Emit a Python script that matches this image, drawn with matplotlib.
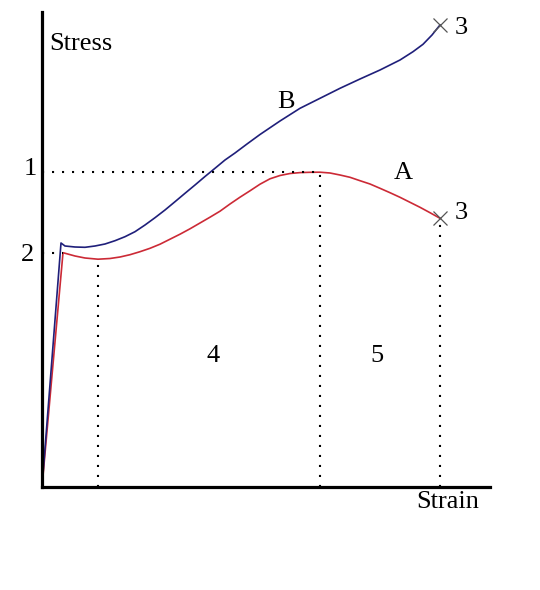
import matplotlib.pyplot as plt
import numpy as np

# curve A (red), arbitrary units
strain_a = [0, 21, 33, 43, 56, 68, 78, 88, 98, 108, 118, 128, 138, 148, 158, 168, 178, 188, 198,
            208, 218, 228, 238, 248, 258, 268, 278, 288, 298, 308, 318, 328, 338, 348, 358, 368,
            378, 388, 398]
stress_a = [0, 234.3, 231, 229, 227.8, 228.5, 230, 232.3, 235.3, 238.7, 242.8, 247.8, 252.8, 258.2,
            264, 269.8, 275.8, 283, 289.8, 296.2, 302.8, 308.2, 311.5, 313.5, 314.4, 314.7, 314.8,
            314, 312, 309.7, 306.3, 303, 298.7, 294.3, 289.7, 284.7, 279.7, 274.3, 268.7]

# curve B (blue)
strain_b = [0, 19, 23, 33, 43, 53, 63, 73, 83, 93, 103, 113, 123, 133, 143, 153, 163, 173, 183,
            193, 205, 218, 238, 258, 278, 298, 318, 338, 358, 371, 381, 390, 398]
stress_b = [0, 244, 241, 240, 239.7, 241, 243, 246.3, 250.3, 255.3, 262, 269.3, 277, 285.3, 293.7,
            302, 310.5, 318.7, 327, 334, 343, 352.5, 366, 378.7, 388.7, 398.7, 408, 417, 427,
            435.3, 442.7, 452, 462]

curve_names = ["A", "B"]
point_labels = ["1", "2", "3", "4", "5"]

plt.rcParams['font.family'] = ['Liberation Serif', 'DejaVu Serif']

fig = plt.figure(figsize=(5.4, 5.9), dpi=100)
ax = fig.add_axes([42 / 540, 103 / 590, 448 / 540, 475 / 590])
ax.set_xlim(0, 448)
ax.set_ylim(0, 475)

for side in ['top', 'right']:
    ax.spines[side].set_visible(False)
for side in ['left', 'bottom']:
    ax.spines[side].set_linewidth(2.3)
    ax.spines[side].set_zorder(5)
ax.set_xticks([])
ax.set_yticks([])

red = '#cc2a36'
blue = '#1f1f7a'
ax.plot(strain_a, stress_a, color=red, lw=1.2, clip_on=False)
ax.plot(strain_b, stress_b, color=blue, lw=1.2, clip_on=False)

# fracture points
ax.plot(strain_a[-1], stress_a[-1], marker='x', ms=10, mew=0.9, color='#555555', clip_on=False)
ax.plot(strain_b[-1], stress_b[-1], marker='x', ms=10, mew=0.9, color='#555555', clip_on=False)

# dotted guide lines
dots = dict(color='black', lw=1.5, linestyle=(0, (1, 3.8)), clip_on=False)
i_max = int(np.argmax(stress_a))
i_min = 1 + int(np.argmin(stress_a[1:10]))
ax.plot([0, strain_a[i_max]], [stress_a[i_max], stress_a[i_max]], **dots)
ax.plot([0, strain_a[1]], [stress_a[1], stress_a[1]], **dots)
ax.plot([strain_a[i_min], strain_a[i_min]], [0, stress_a[i_min]], **dots)
ax.plot([strain_a[i_max], strain_a[i_max]], [0, stress_a[i_max]], **dots)
ax.plot([strain_a[-1], strain_a[-1]], [0, stress_a[-1]], **dots)

fs = 19
txt = dict(fontsize=fs, ha='center', va='center', clip_on=False)
ax.text(7, 443, "Stress", fontsize=fs, ha='left', va='center')
ax.text(437, -15, "Strain", fontsize=fs, ha='right', va='center')
ax.text(-12, stress_a[i_max] + 3, point_labels[0], **txt)
ax.text(-15, stress_a[1] - 2, point_labels[1], **txt)
ax.text(strain_a[-1] + 21, stress_a[-1] + 5, point_labels[2], **txt)
ax.text(strain_b[-1] + 21, stress_b[-1] - 3, point_labels[2], **txt)
ax.text(171, 131, point_labels[3], **txt)
ax.text(335, 131, point_labels[4], **txt)
ax.text(361, 314, curve_names[0], **txt)
ax.text(244, 385, curve_names[1], **txt)

fig.savefig('out.png', dpi=100)
